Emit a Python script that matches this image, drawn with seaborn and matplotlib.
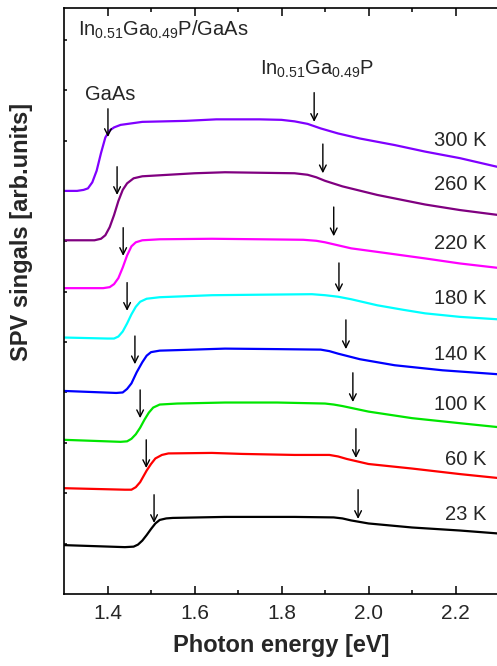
import seaborn as sns
import matplotlib.pyplot as plt
import pandas as pd

sns.set_theme(style="ticks")
plt.rcParams['font.family'] = ['Liberation Sans', 'DejaVu Sans']
plt.rcParams['mathtext.default'] = 'regular'

temps = ["300 K", "260 K", "220 K", "180 K", "140 K", "100 K", "60 K", "23 K"]
colors = ["#8000ff", "#800080", "#ff00ff", "#00ffff", "#0000ff", "#00e600", "#ff0000", "#000000"]

# photon energy (eV) / SPV signal (arb., offset)
e_300 = [1.30, 1.33, 1.345, 1.355, 1.365, 1.375, 1.385, 1.395, 1.405, 1.415, 1.43, 1.48, 1.58, 1.65, 1.75, 1.80, 1.83, 1.86, 1.89, 1.93, 1.98, 2.06, 2.13, 2.21, 2.30]
s_300 = [8.00, 8.00, 8.02, 8.05, 8.17, 8.40, 8.75, 9.06, 9.20, 9.26, 9.31, 9.37, 9.39, 9.42, 9.42, 9.41, 9.38, 9.33, 9.24, 9.14, 9.04, 8.91, 8.78, 8.65, 8.47]
e_260 = [1.30, 1.37, 1.385, 1.395, 1.405, 1.415, 1.425, 1.435, 1.445, 1.46, 1.48, 1.52, 1.60, 1.67, 1.75, 1.83, 1.86, 1.88, 1.90, 1.94, 2.02, 2.13, 2.21, 2.30]
s_260 = [7.02, 7.02, 7.05, 7.12, 7.28, 7.52, 7.80, 8.02, 8.15, 8.25, 8.29, 8.31, 8.35, 8.37, 8.36, 8.35, 8.32, 8.27, 8.20, 8.09, 7.92, 7.73, 7.62, 7.52]
e_220 = [1.30, 1.39, 1.405, 1.415, 1.425, 1.435, 1.445, 1.455, 1.465, 1.48, 1.52, 1.64, 1.75, 1.85, 1.88, 1.90, 1.93, 1.96, 2.02, 2.13, 2.21, 2.30]
s_220 = [6.07, 6.07, 6.09, 6.15, 6.27, 6.48, 6.72, 6.90, 6.98, 7.02, 7.04, 7.05, 7.04, 7.03, 7.01, 6.98, 6.92, 6.86, 6.79, 6.66, 6.56, 6.47]
e_180 = [1.30, 1.40, 1.415, 1.425, 1.435, 1.445, 1.455, 1.465, 1.475, 1.49, 1.52, 1.64, 1.75, 1.87, 1.90, 1.93, 1.96, 2.02, 2.08, 2.13, 2.21, 2.30]
s_180 = [5.09, 5.07, 5.07, 5.11, 5.21, 5.37, 5.55, 5.70, 5.80, 5.86, 5.89, 5.93, 5.94, 5.95, 5.93, 5.90, 5.85, 5.73, 5.64, 5.57, 5.50, 5.45]
e_140 = [1.30, 1.42, 1.435, 1.445, 1.455, 1.467, 1.48, 1.49, 1.50, 1.52, 1.56, 1.67, 1.79, 1.89, 1.91, 1.93, 1.98, 2.06, 2.17, 2.30]
s_140 = [4.03, 3.99, 4.00, 4.07, 4.18, 4.40, 4.60, 4.73, 4.80, 4.83, 4.84, 4.87, 4.86, 4.85, 4.82, 4.77, 4.66, 4.54, 4.44, 4.36]
e_100 = [1.30, 1.43, 1.445, 1.455, 1.465, 1.475, 1.485, 1.495, 1.505, 1.52, 1.56, 1.67, 1.79, 1.90, 1.92, 1.94, 2.00, 2.10, 2.21, 2.30]
s_100 = [3.06, 3.02, 3.03, 3.08, 3.17, 3.30, 3.46, 3.60, 3.70, 3.76, 3.78, 3.80, 3.80, 3.78, 3.76, 3.73, 3.62, 3.49, 3.39, 3.31]
e_60 = [1.30, 1.44, 1.455, 1.465, 1.475, 1.49, 1.50, 1.51, 1.525, 1.54, 1.64, 1.71, 1.83, 1.91, 1.93, 1.95, 1.98, 2.00, 2.10, 2.21, 2.30]
s_60 = [2.10, 2.07, 2.07, 2.12, 2.22, 2.45, 2.58, 2.69, 2.76, 2.79, 2.80, 2.78, 2.76, 2.76, 2.73, 2.68, 2.62, 2.58, 2.49, 2.38, 2.30]
e_23 = [1.30, 1.44, 1.46, 1.47, 1.48, 1.49, 1.50, 1.51, 1.52, 1.535, 1.55, 1.67, 1.83, 1.92, 1.94, 1.96, 2.00, 2.10, 2.21, 2.30]
s_23 = [0.97, 0.93, 0.94, 0.98, 1.06, 1.17, 1.29, 1.40, 1.47, 1.50, 1.51, 1.53, 1.53, 1.52, 1.50, 1.46, 1.40, 1.32, 1.26, 1.20]

# arrow tips: GaAs edge and InGaP edge
gaas_e = [1.401, 1.422, 1.436, 1.445, 1.463, 1.475, 1.489, 1.507]
gaas_s = [9.07, 7.92, 6.71, 5.62, 4.56, 3.49, 2.50, 1.41]
ingap_e = [1.875, 1.895, 1.920, 1.932, 1.948, 1.964, 1.971, 1.976]
ingap_s = [9.37, 8.35, 7.10, 5.99, 4.86, 3.81, 2.70, 1.49]
label_s = [9.01, 8.12, 6.96, 5.87, 4.76, 3.77, 2.66, 1.57]

energies = [e_300, e_260, e_220, e_180, e_140, e_100, e_60, e_23]
signals = [s_300, s_260, s_220, s_180, s_140, s_100, s_60, s_23]

frames = []
for t, e, s in zip(temps, energies, signals):
    frames.append(pd.DataFrame({"E": e, "S": s, "T": t}))
df = pd.concat(frames, ignore_index=True)

fig = plt.figure(figsize=(4.97, 6.66), dpi=100)
ax = fig.add_axes([0.1288, 0.1081, 0.8753, 0.8799])

sns.lineplot(data=df, x="E", y="S", hue="T", hue_order=temps,
             palette=dict(zip(temps, colors)), sort=False, estimator=None,
             legend=False, lw=1.6, ax=ax)

arrow = dict(arrowstyle="->", color="black", lw=1.0, shrinkA=0, shrinkB=0,
             mutation_scale=12)
for i in range(len(temps)):
    ax.annotate("", xy=(gaas_e[i], gaas_s[i]), xytext=(gaas_e[i], gaas_s[i] + 0.56),
                arrowprops=arrow)
    ax.annotate("", xy=(ingap_e[i], ingap_s[i]), xytext=(ingap_e[i], ingap_s[i] + 0.58),
                arrowprops=arrow)
    ax.text(2.272, label_s[i], temps[i], ha="right", va="center", fontsize=14.5)

ax.text(1.332, 11.09, r"In$_{0.51}$Ga$_{0.49}$P/GaAs", fontsize=14.5, va="baseline")
ax.text(1.751, 10.30, r"In$_{0.51}$Ga$_{0.49}$P", fontsize=14.5, va="baseline")
ax.text(1.348, 9.80, "GaAs", fontsize=14.5, va="baseline")

ax.set_xlim(1.3, 2.3)
ax.set_ylim(0, 11.63)
ax.set_xticks([1.4, 1.6, 1.8, 2.0, 2.2])
ax.set_xticks([1.5, 1.7, 1.9, 2.1], minor=True)
ax.set_yticks(range(1, 12))
ax.set_yticklabels([])
ax.tick_params(axis="x", which="major", direction="in", length=6, width=1.1,
               top=True, labelsize=15, pad=7, color="black")
ax.tick_params(axis="x", which="minor", direction="in", length=3, width=1.1,
               top=True, color="black")
ax.tick_params(axis="y", direction="in", length=2.5, width=1.1, color="black")
for side in ["left", "bottom", "top"]:
    ax.spines[side].set_linewidth(1.2)
    ax.spines[side].set_color("black")
ax.spines["right"].set_visible(False)

ax.set_xlabel("Photon energy [eV]", fontsize=17, fontweight="bold", labelpad=8)
ax.set_ylabel("SPV singals [arb.units]", fontsize=17, fontweight="bold")
ax.yaxis.set_label_coords(-0.072, 0.618)

fig.savefig("out.png", dpi=100)
